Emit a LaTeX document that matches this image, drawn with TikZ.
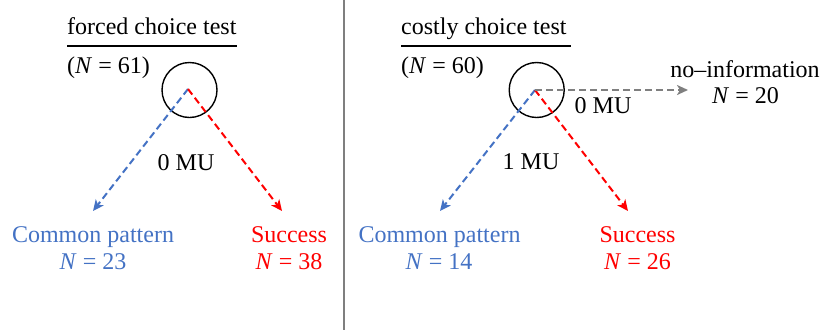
\documentclass[tikz,border=0pt]{standalone}
\usepackage{fontspec}
\setmainfont{Liberation Serif}
\usetikzlibrary{arrows.meta}
\definecolor{cpblue}{HTML}{4472C4}
\definecolor{sred}{HTML}{FF0000}
\definecolor{nogray}{HTML}{7F7F7F}
\tikzset{
  lbl/.style={inner sep=0pt, anchor=base, font=\fontsize{24}{28}\selectfont},
  lbll/.style={lbl, anchor=base west},
  darr/.style={line width=2pt, dash pattern=on 7pt off 4pt, -{Stealth[length=11pt,width=10pt,inset=3pt]}},
  ring/.style={draw=black, line width=1.4pt, circle, minimum size=55pt, inner sep=0pt},
}
\begin{document}
\begin{tikzpicture}[x=1pt,y=-1pt]
\useasboundingbox (0,0) rectangle (821,330);
% separator
\draw[line width=1.5pt, color=nogray] (344,0) -- (344,330);

% ---- left panel ----
\node[lbll] (t1) at (67,34) {forced choice test};
\draw[line width=2pt] (67,46) -- (237,46);
\node[lbll] (n1) at (67,73) {(\textit{N} = 61)};
\node[ring] (c1) at (189.5,90) {};
\coordinate (o1) at (188,89);
\coordinate (b1) at (93,211);
\coordinate (r1) at (282,211);
\draw[darr, color=cpblue] (o1) -- (b1);
\draw[darr, color=sred] (o1) -- (r1);
\node[lbl] (mu1) at (186,170) {0 MU};
\node[lbl, color=cpblue] (cp1) at (93,242) {Common pattern};
\node[lbl, color=cpblue] (cpn1) at (93,269) {\textit{N} = 23};
\node[lbl, color=sred] (s1) at (289,242) {Success};
\node[lbl, color=sred] (sn1) at (289,269) {\textit{N} = 38};

% ---- right panel ----
\node[lbll] (t2) at (401,34) {costly choice test};
\draw[line width=2pt] (401,46) -- (571,46);
\node[lbll] (n2) at (401,73) {(\textit{N} = 60)};
\node[ring] (c2) at (536.7,90) {};
\coordinate (o2) at (535,90);
\coordinate (b2) at (440,211);
\coordinate (r2) at (628,211);
\coordinate (g2) at (688,90);
\draw[darr, color=cpblue] (o2) -- (b2);
\draw[darr, color=sred] (o2) -- (r2);
\draw[darr, color=nogray] (o2) -- (g2);
\node[lbl] (mu2) at (603,113) {0 MU};
\node[lbl] (mu3) at (531,169) {1 MU};
\node[lbl] (ni) at (745,77) {no--information};
\node[lbl] (nin) at (745.5,103) {\textit{N} = 20};
\node[lbl, color=cpblue] (cp2) at (439.5,242) {Common pattern};
\node[lbl, color=cpblue] (cpn2) at (439,269) {\textit{N} = 14};
\node[lbl, color=sred] (s2) at (637.5,242) {Success};
\node[lbl, color=sred] (sn2) at (637.5,269) {\textit{N} = 26};
\end{tikzpicture}
\end{document}
